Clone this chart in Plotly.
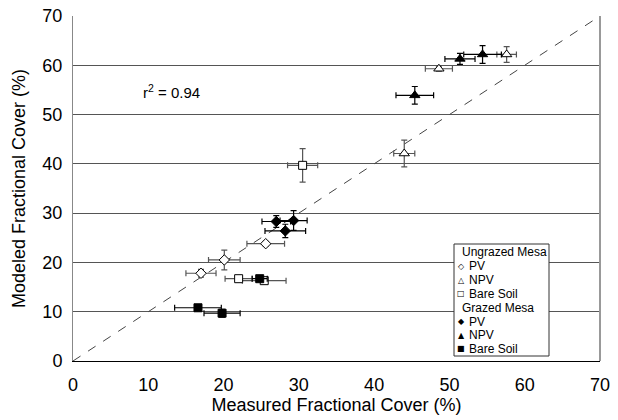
import plotly.graph_objects as go

# Ungrazed Mesa
ug_pv_x = [17.0, 20.1, 25.6]
ug_pv_y = [17.8, 20.5, 23.8]
ug_pv_ex = [2.0, 2.1, 2.5]
ug_pv_ey = [0.8, 2.0, 0.5]

ug_npv_x = [44.0, 48.6, 57.6]
ug_npv_y = [42.1, 59.3, 62.2]
ug_npv_ex = [1.4, 1.8, 1.3]
ug_npv_ey = [2.7, 0.5, 1.6]

ug_bs_x = [22.0, 25.4, 30.5]
ug_bs_y = [16.7, 16.3, 39.7]
ug_bs_ex = [1.8, 2.9, 2.0]
ug_bs_ey = [0.5, 0.5, 3.4]

# Grazed Mesa
g_pv_x = [27.0, 29.3, 28.2]
g_pv_y = [28.3, 28.5, 26.4]
g_pv_ex = [1.9, 1.8, 2.7]
g_pv_ey = [1.2, 2.0, 1.35]

g_npv_x = [45.4, 51.4, 54.4]
g_npv_y = [53.9, 61.3, 62.2]
g_npv_ex = [2.5, 2.0, 2.5]
g_npv_ey = [1.8, 1.1, 1.8]

g_bs_x = [16.6, 19.8, 24.8]
g_bs_y = [10.8, 9.7, 16.7]
g_bs_ex = [3.1, 2.4, 1.0]
g_bs_ey = [0.5, 0.8, 0.5]

one_to_one = [0, 70]
ticks = [0, 10, 20, 30, 40, 50, 60, 70]

legend_headers = ["Ungrazed Mesa", "Grazed Mesa"]
legend_symbols = [["◇", "△", "□"], ["◆", "▲", "■"]]
legend_labels = ["PV", "NPV", "Bare Soil"]

FONT = "Liberation Sans, Arial, sans-serif"

W, H = 618, 420
ML, MR, MT, MB = 73, 18, 16, 59
PW, PH = W - ML - MR, H - MT - MB


def px2paper(px, py):
    return (px - ML) / PW, (H - MB - py) / PH


fig = go.Figure()

fig.add_trace(go.Scatter(x=one_to_one, y=one_to_one, mode="lines",
                         line=dict(color="#444", width=1, dash="dash"),
                         showlegend=False, hoverinfo="skip"))


def add(name, xs, ys, ex, ey, symbol, fill, size, ecol):
    fig.add_trace(go.Scatter(
        x=xs, y=ys, mode="markers", name=name, showlegend=False,
        marker=dict(symbol=symbol, color=fill, size=size,
                    line=dict(color="black", width=1)),
        error_x=dict(type="data", array=ex, color=ecol, thickness=1.2, width=3),
        error_y=dict(type="data", array=ey, color=ecol, thickness=1.2, width=3),
    ))


add("Ungrazed PV", ug_pv_x, ug_pv_y, ug_pv_ex, ug_pv_ey, "diamond", "white", 8, "#555")
add("Ungrazed NPV", ug_npv_x, ug_npv_y, ug_npv_ex, ug_npv_ey, "triangle-up", "white", 9, "#555")
add("Ungrazed Bare Soil", ug_bs_x, ug_bs_y, ug_bs_ex, ug_bs_ey, "square", "white", 8, "#555")
add("Grazed PV", g_pv_x, g_pv_y, g_pv_ex, g_pv_ey, "diamond", "black", 8, "black")
add("Grazed NPV", g_npv_x, g_npv_y, g_npv_ex, g_npv_ey, "triangle-up", "black", 9, "black")
add("Grazed Bare Soil", g_bs_x, g_bs_y, g_bs_ex, g_bs_ey, "square", "black", 8, "black")

fig.add_annotation(x=13.1, y=54.7, xref="x", yref="y", text="r<sup>2</sup> = 0.94",
                   showarrow=False, font=dict(family=FONT, size=15, color="black"))

# legend box
x0, y0 = px2paper(454, 356)
x1, y1 = px2paper(549, 244)
fig.add_shape(type="rect", xref="paper", yref="paper", x0=x0, x1=x1, y0=y0, y1=y1,
              fillcolor="white", line=dict(color="#333", width=1), layer="above")

line_py = [252, 266, 280, 293.5, 307.5, 321.5, 335, 348.5]
rows = []
for g in range(2):
    rows.append((legend_headers[g], None))
    for s, lab in zip(legend_symbols[g], legend_labels):
        rows.append((lab, s))
for (txt, sym), py in zip(rows, line_py):
    if sym is None:
        ax, ay = px2paper(460, py)
        fig.add_annotation(x=ax, y=ay, xref="paper", yref="paper", xanchor="left",
                           yanchor="middle", text=txt, showarrow=False,
                           font=dict(family=FONT, size=12, color="black"))
    else:
        sx, sy = px2paper(461, py)
        fig.add_annotation(x=sx, y=sy, xref="paper", yref="paper", xanchor="center",
                           yanchor="middle", text=sym, showarrow=False,
                           font=dict(family="DejaVu Sans", size=8, color="black"))
        tx, ty = px2paper(467, py)
        fig.add_annotation(x=tx, y=ty, xref="paper", yref="paper", xanchor="left",
                           yanchor="middle", text=txt, showarrow=False,
                           font=dict(family=FONT, size=12, color="black"))

fig.update_layout(
    width=W, height=H,
    margin=dict(l=ML, r=MR, t=MT, b=MB),
    paper_bgcolor="white", plot_bgcolor="white",
    font=dict(family=FONT, color="black"),
    showlegend=False,
)
fig.update_xaxes(range=[0, 70], tickvals=ticks, ticks="outside", ticklen=7,
                 tickcolor="rgba(0,0,0,0)", automargin=False,
                 tickfont=dict(size=18), showgrid=False, zeroline=False,
                 showline=True, linecolor="black", linewidth=1, mirror=False,
                 title=dict(text="Measured Fractional Cover (%)", font=dict(size=18), standoff=3))
fig.update_yaxes(range=[0, 70], tickvals=ticks, ticks="outside", ticklen=6,
                 tickcolor="rgba(0,0,0,0)", automargin=False,
                 tickfont=dict(size=18), showgrid=True, gridcolor="#555", gridwidth=1,
                 zeroline=False, showline=True, linecolor="#888", linewidth=1,
                 title=dict(text="Modeled Fractional Cover (%)", font=dict(size=18), standoff=12))
# right border
fig.add_shape(type="line", xref="paper", yref="paper", x0=1, x1=1, y0=0, y1=1,
              line=dict(color="#999", width=2))

fig.write_html("out.html", config={"displayModeBar": False},
               post_script="document.body.style.margin='0';")
